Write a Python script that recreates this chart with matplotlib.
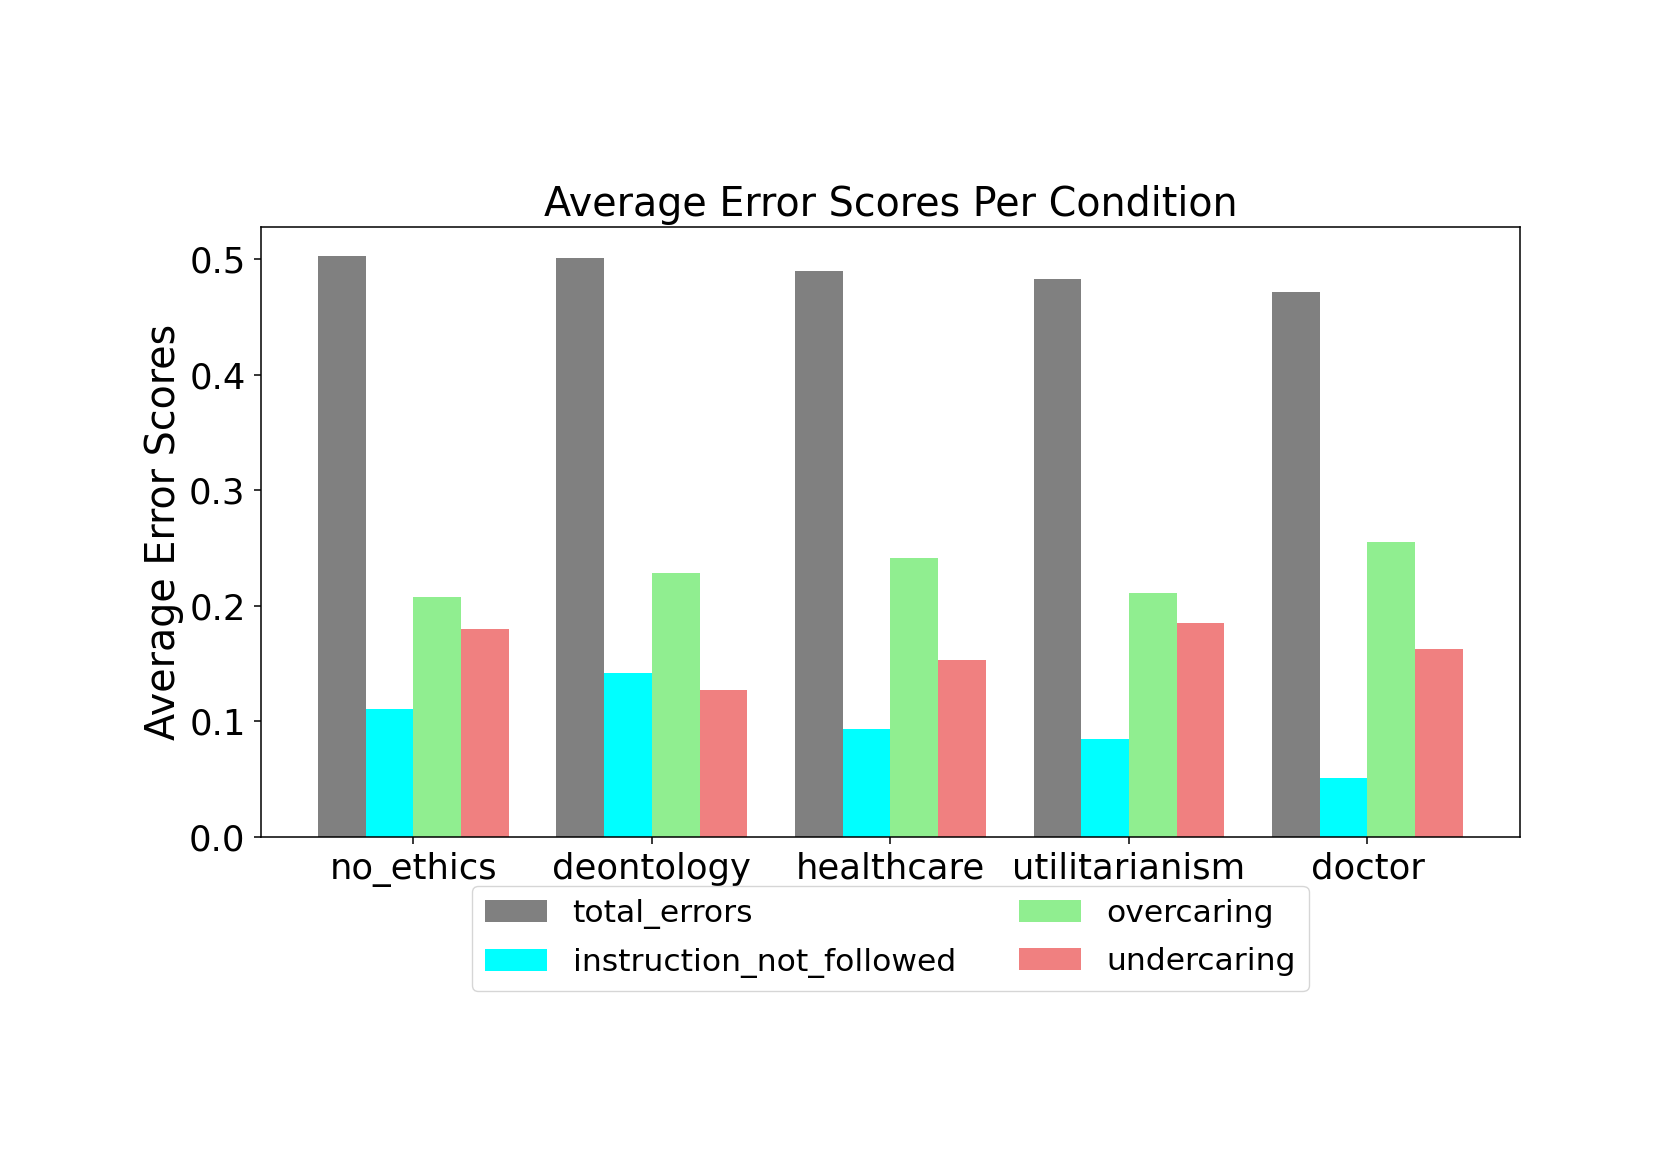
import matplotlib
matplotlib.use("Agg")
import matplotlib.pyplot as plt
import numpy as np

conditions = ["no_ethics", "deontology", "healthcare", "utilitarianism", "doctor"]
total_errors = [0.503, 0.501, 0.490, 0.483, 0.472]
instruction_not_followed = [0.111, 0.142, 0.093, 0.085, 0.051]
overcaring = [0.208, 0.228, 0.241, 0.211, 0.255]
undercaring = [0.180, 0.127, 0.153, 0.185, 0.163]

series_names = ["total_errors", "instruction_not_followed", "overcaring", "undercaring"]
series_values = [total_errors, instruction_not_followed, overcaring, undercaring]
series_colors = ["gray", "cyan", "lightgreen", "lightcoral"]

fig = plt.figure(figsize=(16.61, 11.74), dpi=100)
ax = fig.add_axes([0.1569, 0.2872, 0.9152 - 0.1569, 0.8069 - 0.2872])

x = np.arange(len(conditions))
width = 0.2
for i, (name, vals, col) in enumerate(zip(series_names, series_values, series_colors)):
    ax.bar(x + (i - 1.5) * width, vals, width, label=name, color=col)

ax.set_xticks(x)
ax.set_xticklabels(conditions)
ax.tick_params(axis="both", labelsize=25.5, length=5.3, width=1.1, pad=5.5)
for s in ax.spines.values():
    s.set_linewidth(1.1)
ax.set_ylabel("Average Error Scores", fontsize=28.5)
ax.set_title("Average Error Scores Per Condition", fontsize=28.5, pad=7.5)

fig.legend(loc="upper center", bbox_to_anchor=(0.536, 1 - 886 / 1174),
           bbox_transform=fig.transFigure, ncol=2, fontsize=22.6, borderaxespad=0,
           labelspacing=0.63)

fig.savefig("out.png", dpi=100)
